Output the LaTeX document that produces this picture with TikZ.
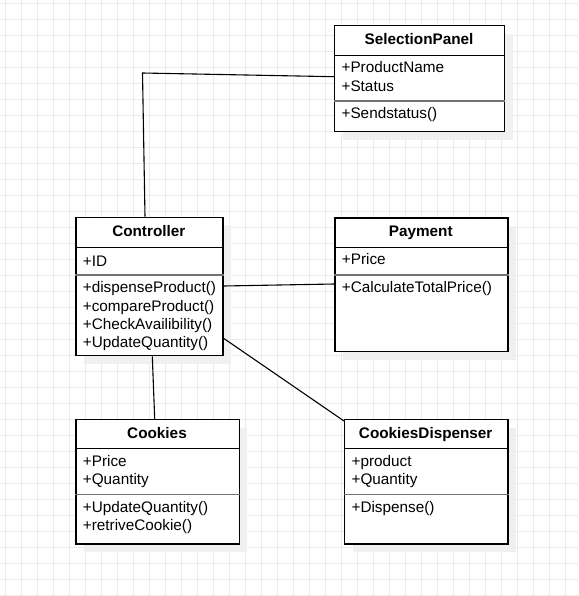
\documentclass[tikz,border=0pt]{standalone}
\usepackage{fontspec}
\setmainfont{Liberation Sans}
\usetikzlibrary{positioning,shadows}

\tikzset{
  gridline/.style={line width=.8pt, black!8},
  umlclass/.style={draw, fill=white, line width=1.3pt, anchor=north west, inner sep=0pt,
    drop shadow={shadow xshift=8pt, shadow yshift=-8pt, fill=black!6, opacity=1}},
  headline/.style={line width=1.3pt},
  sepline/.style={line width=1.6pt, black!55},
  classname/.style={font=\fontsize{15.3}{18.3}\selectfont\bfseries, inner sep=0pt,
    text height=11pt, text depth=0pt},
  member/.style={font=\fontsize{15.3}{18.3}\selectfont, anchor=west, inner sep=0pt,
    text height=11pt, text depth=0pt},
  assoc/.style={line width=1.1pt}
}

\begin{document}
\begin{tikzpicture}[x=1pt,y=-1pt]
  \useasboundingbox (0,0) rectangle (578,596);
  % background grid
  \foreach \gx in {5,21,...,565} \draw[gridline] (\gx,0) -- (\gx,596);
  \foreach \gy in {3,19,...,595} \draw[gridline] (0,\gy) -- (578,\gy);

  % SelectionPanel
  \node[umlclass, minimum width=170pt, minimum height=106pt] (sel) at (334,25) {};
  \draw[headline] (sel.west |- 0,55.7) -- (sel.east |- 0,55.7);
  \draw[sepline] (sel.west |- 0,101) -- (sel.east |- 0,101);
  \node[classname] (seltitle) at (419,39.5) {SelectionPanel};
  \node[member] (selattr1) at (341.4,67.3) {+ProductName};
  \node[member] (selattr2) at (341.4,85.6) {+Status};
  \node[member] (selop1) at (341.4,113.3) {+Sendstatus()};

  % Controller
  \node[umlclass, minimum width=147pt, minimum height=138.3pt] (ctrl) at (75.3,216.7) {};
  \draw[headline] (ctrl.west |- 0,247.3) -- (ctrl.east |- 0,247.3);
  \draw[sepline] (ctrl.west |- 0,275) -- (ctrl.east |- 0,275);
  \node[classname] (ctrltitle) at (148.8,231) {Controller};
  \node[member] (ctrlattr1) at (82.7,260.5) {+ID};
  \foreach \m [count=\i] in {+dispenseProduct(), +compareProduct(), +CheckAvailibility(), +UpdateQuantity()}
    \node[member] (ctrlop\i) at (82.7,{269+18.3*\i}) {\m};

  % Payment
  \node[umlclass, minimum width=173pt, minimum height=133.7pt] (pay) at (334.3,217.3) {};
  \draw[headline] (pay.west |- 0,247.3) -- (pay.east |- 0,247.3);
  \draw[sepline] (pay.west |- 0,275) -- (pay.east |- 0,275);
  \node[classname] (paytitle) at (420.8,231.3) {Payment};
  \node[member] (payattr1) at (341.7,259.3) {+Price};
  \node[member] (payop1) at (341.7,286.7) {+CalculateTotalPrice()};

  % Cookies
  \node[umlclass, minimum width=163.4pt, minimum height=124.3pt] (cook) at (75.3,419) {};
  \draw[headline] (cook.west |- 0,448.3) -- (cook.east |- 0,448.3);
  \draw[sepline] (cook.west |- 0,494.3) -- (cook.east |- 0,494.3);
  \node[classname] (cooktitle) at (157,432.8) {Cookies};
  \node[member] (cookattr1) at (82.7,460.7) {+Price};
  \node[member] (cookattr2) at (82.7,478.7) {+Quantity};
  \node[member] (cookop1) at (82.7,506.7) {+UpdateQuantity()};
  \node[member] (cookop2) at (82.7,524.7) {+retriveCookie()};

  % CookiesDispenser
  \node[umlclass, minimum width=163.3pt, minimum height=124.3pt] (disp) at (344,419) {};
  \draw[headline] (disp.west |- 0,448.3) -- (disp.east |- 0,448.3);
  \draw[sepline] (disp.west |- 0,494.3) -- (disp.east |- 0,494.3);
  \node[classname] (disptitle) at (425.7,432.8) {CookiesDispenser};
  \node[member] (dispattr1) at (351.4,460.7) {+product};
  \node[member] (dispattr2) at (351.4,478.7) {+Quantity};
  \node[member] (dispop1) at (351.4,506.7) {+Dispense()};

  % associations
  \coordinate (selbend) at (142.5,73);
  \draw[assoc] (sel.west |- 0,76.7) -- (selbend) -- (ctrl.north -| 145,0);
  \draw[assoc] (ctrl.east |- 0,286) -- (pay.west |- 0,284);
  \draw[assoc] (ctrl.south -| 152.3,0) -- (cook.north -| 154.7,0);
  \draw[assoc] (ctrl.east |- 0,338.3) -- (disp.west |- 0,421);
\end{tikzpicture}
\end{document}
